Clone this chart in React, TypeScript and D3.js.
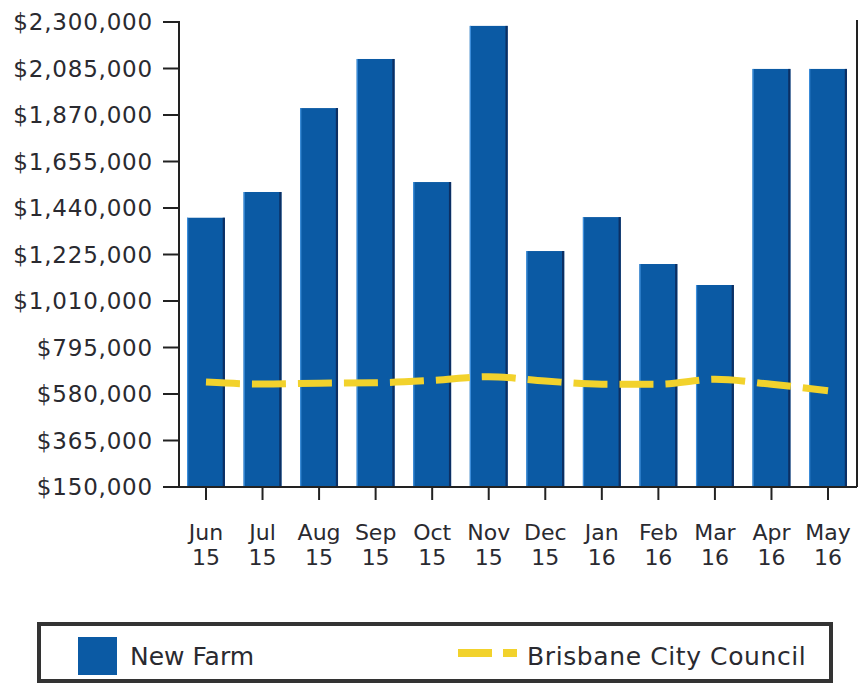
import React from "react";
import * as d3 from "d3";

const months = ["Jun", "Jul", "Aug", "Sep", "Oct", "Nov", "Dec", "Jan", "Feb", "Mar", "Apr", "May"];
const years = ["15", "15", "15", "15", "15", "15", "15", "16", "16", "16", "16", "16"];
const newFarm = [1395000, 1514000, 1902000, 2129000, 1560000, 2282000, 1241000, 1398000, 1181000, 1084000, 2083000, 2083000];
const brisbane = [635000, 626000, 630000, 632000, 643000, 660000, 640000, 625000, 625000, 648000, 625000, 595000];
const yTicks = [150000, 365000, 580000, 795000, 1010000, 1225000, 1440000, 1655000, 1870000, 2085000, 2300000];

const W = 859;
const H = 687;
const left = 179;
const right = 857;
const top = 22;
const bottom = 487;
const textColor = "#2a2a30";
const font = "'DejaVu Sans', Verdana, sans-serif";

export default function App() {
  const x = d3.scaleBand<string>().domain(months).range([177.7, 856.3]).paddingInner(0.33).paddingOuter(0.165);
  const y = d3.scaleLinear().domain([150000, 2300000]).range([bottom, top]);
  const bw = x.bandwidth();
  const cx = (m: string) => (x(m) as number) + bw / 2;
  const fmt = (v: number) => "$" + d3.format(",")(v);
  const line = d3
    .line<number>()
    .x((_, i) => cx(months[i]))
    .y((d) => y(d))
    .curve(d3.curveMonotoneX);

  return (
    <svg
      width={W}
      height={H}
      style={{ position: "absolute", left: 0, top: 0, background: "#fff" }}
      fontFamily={font}
    >
      <rect x={0} y={0} width={W} height={H} fill="#fff" />
      {/* bars */}
      {newFarm.map((v, i) => {
        const bx = x(months[i]) as number;
        const by = y(v);
        const h = bottom - by;
        return (
          <g key={i}>
            <rect x={bx} y={by} width={bw} height={h} fill="#0b5aa4" />
            <rect x={bx} y={by} width={1.2} height={h} fill="#3d8fdc" />
            <rect x={bx + bw - 2.2} y={by} width={2.2} height={h} fill="#0c2f63" />
          </g>
        );
      })}
      {/* line */}
      <path
        d={line(brisbane) || ""}
        fill="none"
        stroke="#f2d22c"
        strokeWidth={7}
        strokeDasharray="34 12"
      />
      {/* y axis */}
      <line x1={left} x2={left} y1={top - 1} y2={bottom} stroke="#222" strokeWidth={2} />
      <line x1={right} x2={right} y1={top - 2} y2={bottom} stroke="#222" strokeWidth={2} />
      <line x1={163} x2={right} y1={bottom} y2={bottom} stroke="#222" strokeWidth={2} />
      {yTicks.map((t) => (
        <g key={t}>
          <line x1={163} x2={left} y1={y(t)} y2={y(t)} stroke="#222" strokeWidth={2} />
          <text
            x={153}
            y={y(t)}
            dy="0.36em"
            textAnchor="end"
            fontSize={23}
            letterSpacing={0.8}
            fill={textColor}
          >
            {fmt(t)}
          </text>
        </g>
      ))}
      {/* x axis */}
      {months.map((m, i) => (
        <g key={m}>
          <line x1={cx(m)} x2={cx(m)} y1={bottom} y2={500} stroke="#222" strokeWidth={2} />
          <text x={cx(m)} y={540} textAnchor="middle" fontSize={22} fill={textColor}>
            {m}
          </text>
          <text x={cx(m)} y={565} textAnchor="middle" fontSize={22} fill={textColor}>
            {years[i]}
          </text>
        </g>
      ))}
      {/* legend */}
      <rect x={39} y={624} width={792} height={57} fill="#fff" stroke="#333" strokeWidth={4} />
      <rect x={78} y={637} width={39} height={38} fill="#0b5aa4" />
      <text x={130} y={665} fontSize={25} fill={textColor}>
        New Farm
      </text>
      <line x1={458} x2={517} y1={653} y2={653} stroke="#f2d22c" strokeWidth={8} strokeDasharray="34 11" />
      <text x={527} y={665} fontSize={25} letterSpacing={0.6} fill={textColor}>
        Brisbane City Council
      </text>
    </svg>
  );
}
